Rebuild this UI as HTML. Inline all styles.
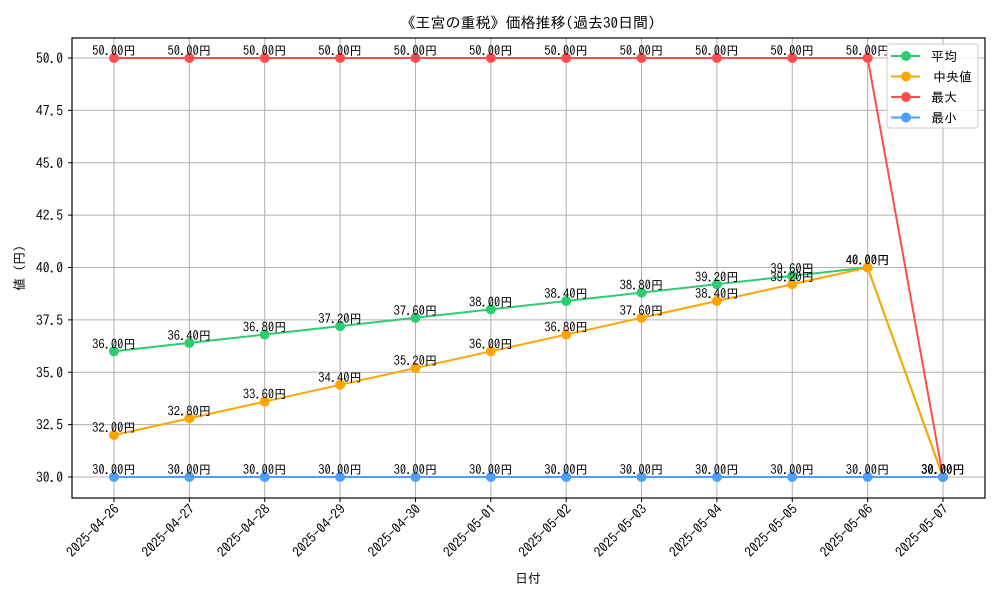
<!DOCTYPE html>
<html><head><meta charset="utf-8">
<style>
html,body{margin:0;padding:0;background:#fff;}
svg{display:block;font-family:"IPAGothic","Liberation Sans","Noto Sans CJK JP",sans-serif;}
</style></head>
<body>
<svg id="chart" width="1000" height="600" viewBox="0 0 1000 600">
<rect width="1000" height="600" fill="#fff"/>
<text x="528" y="28" font-size="15" text-anchor="middle">《王宮の重税》価格推移(過去30日間)</text>
<g id="grid"></g>
<g id="series"></g>
<rect x="72" y="38" width="913" height="460" fill="none" stroke="#000" stroke-width="1.2"/>
<g id="axes"></g>
<text x="528" y="583" font-size="13" text-anchor="middle">日付</text>
<text transform="translate(24,268) rotate(-90)" font-size="13" text-anchor="middle">値 (円)</text>
<g id="legend"></g>
</svg>
<script>
const categories=["2025-04-26","2025-04-27","2025-04-28","2025-04-29","2025-04-30","2025-05-01","2025-05-02","2025-05-03","2025-05-04","2025-05-05","2025-05-06","2025-05-07"];
const avgValues=[36.0,36.4,36.8,37.2,37.6,38.0,38.4,38.8,39.2,39.6,40.0,30.0];
const medianValues=[32.0,32.8,33.6,34.4,35.2,36.0,36.8,37.6,38.4,39.2,40.0,30.0];
const maxValues=[50,50,50,50,50,50,50,50,50,50,50,30];
const minValues=[30,30,30,30,30,30,30,30,30,30,30,30];
const yTicks=[30.0,32.5,35.0,37.5,40.0,42.5,45.0,47.5,50.0];
const seriesNames=["平均","中央値","最大","最小"];

const NS="http://www.w3.org/2000/svg";
function mk(tag,attrs,parent){const e=document.createElementNS(NS,tag);for(const k in attrs)e.setAttribute(k,attrs[k]);parent.appendChild(e);return e;}
const x0=114,dx=(943-114)/(categories.length-1);
function xPos(i){return x0+i*dx;}
function yPos(v){return 477-(v-30)*(477-58)/20;}

const grid=document.getElementById('grid'),axes=document.getElementById('axes');
categories.forEach((c,i)=>{
  const gl=mk('line',{x1:xPos(i),x2:xPos(i),y1:38,y2:498,stroke:'#b0b0b0','stroke-width':1},grid);
  
  
  const tk=mk('line',{x1:xPos(i),x2:xPos(i),y1:498,y2:502,stroke:'#000'},axes);
  
  
  const t=mk('text',{'font-size':13.5,'text-anchor':'end',transform:`translate(${xPos(i)+6},${510}) rotate(-45)`},axes);
  t.textContent=c;
  
  
});
yTicks.forEach(v=>{
  const gl=mk('line',{x1:72,x2:985,y1:yPos(v),y2:yPos(v),stroke:'#b0b0b0','stroke-width':1},grid);
  
  
  const tk=mk('line',{x1:68,x2:72,y1:yPos(v),y2:yPos(v),stroke:'#000'},axes);
  
  
  const t=mk('text',{x:63,y:yPos(v)+5,'font-size':13.5,'text-anchor':'end'},axes);
  t.textContent=v.toFixed(1);
  
  
});

const sg=document.getElementById('series');
const defs=[[avgValues,'#2ecc71','avg'],[medianValues,'#ffa500','median'],[maxValues,'#ff4d4d','max'],[minValues,'#4d9fff','min']];
defs.forEach(([vals,col,key])=>{
  const g=mk('g',{},sg);
  
  
  const pl=mk('polyline',{points:vals.map((v,i)=>xPos(i)+','+yPos(v)).join(' '),fill:'none',stroke:col,'stroke-width':2},g);
  
  
  vals.forEach((v,i)=>{
    const c=mk('circle',{cx:xPos(i),cy:yPos(v),r:5,fill:col},g);
    
    
    const t=mk('text',{x:xPos(i),y:yPos(v)-3,'font-size':12.5,'text-anchor':'middle'},g);
    t.textContent=v.toFixed(2)+'円';
    
    
  });
});

const lg=document.getElementById('legend');
const lb=mk('rect',{x:887,y:44,width:91,height:84,rx:3,fill:'#fff','fill-opacity':0.8,stroke:'#ccc'},lg);


defs.forEach(([v,col,key],i)=>{
  const y=56+i*20.5;
  const g=mk('g',{},lg);
  
  
  mk('line',{x1:891,x2:920,y1:y,y2:y,stroke:col,'stroke-width':2},g);
  mk('circle',{cx:906,cy:y,r:5,fill:col},g);
  const t=mk('text',{x:i==1?933:931,y:y+5,'font-size':13},g);
  t.textContent=seriesNames[i];
});
</script>
</body></html>
